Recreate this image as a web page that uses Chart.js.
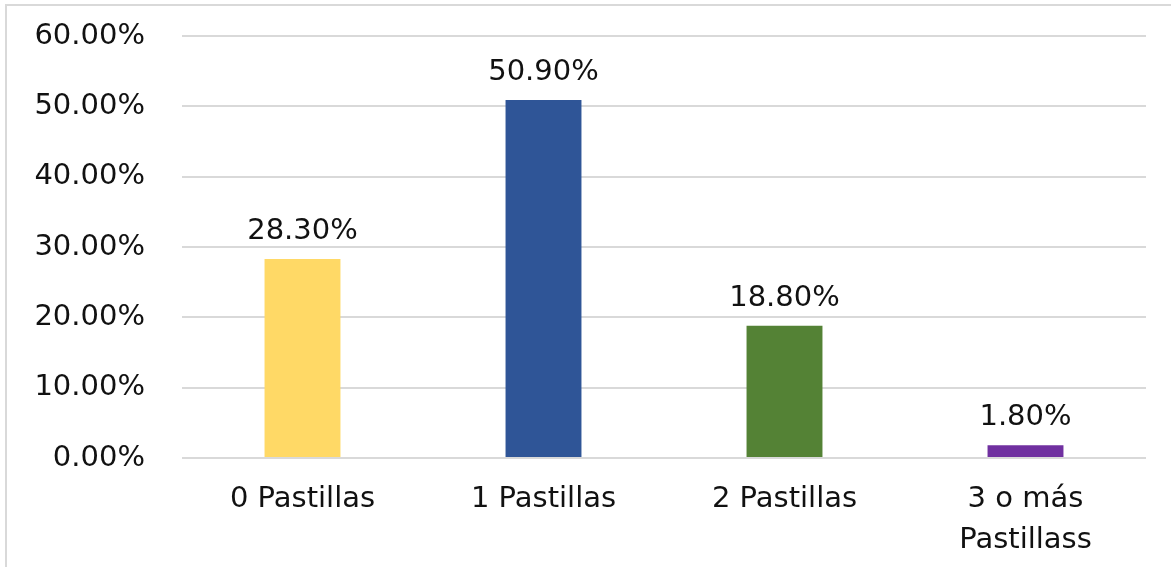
<!DOCTYPE html>
<html><head><meta charset="utf-8">
<script src="https://cdn.jsdelivr.net/npm/chart.js@4/dist/chart.umd.min.js"></script>
<style>
html,body{margin:0;padding:0;background:#fff;width:1171px;height:567px;overflow:hidden}
#wrap{position:absolute;left:0;top:0;width:1171px;height:567px}
#frame{position:absolute;left:5px;top:4px;width:1166px;height:563px;border-top:2px solid #d9d9d9;border-left:2px solid #d9d9d9;box-sizing:border-box;pointer-events:none}
</style></head>
<body>
<div id="wrap"><canvas id="c" width="1171" height="567"></canvas></div>
<div id="frame"></div>
<script>
const categories = ['0 Pastillas', '1 Pastillas', '2 Pastillas', ['3 o más', 'Pastillass']];
const values = [28.3, 50.9, 18.8, 1.8];
const barColors = ['#FFD966', '#2F5597', '#548235', '#7030A0'];
const yTicks = [0, 10, 20, 30, 40, 50, 60];

const FONT = 'DejaVu Sans';
const labelPlugin = {
  id: 'valueLabels',
  afterDatasetsDraw(chart) {
    const ctx = chart.ctx;
    const meta = chart.getDatasetMeta(0);
    ctx.save();
    ctx.font = '29px "' + FONT + '"';
    ctx.fillStyle = '#111';
    ctx.textAlign = 'center';
    ctx.textBaseline = 'alphabetic';
    meta.data.forEach((bar, i) => {
      ctx.fillText(values[i].toFixed(2) + '%', bar.x, bar.y - 20);
    });
    ctx.restore();
  }
};

new Chart(document.getElementById('c'), {
  type: 'bar',
  data: {
    labels: categories,
    datasets: [{
      data: values,
      backgroundColor: barColors,
      barPercentage: 0.315,
      categoryPercentage: 1.0
    }]
  },
  options: {
    responsive: false,
    animation: false,
    layout: { padding: { left: 0, right: 25, top: 36, bottom: 0 } },
    plugins: { legend: { display: false }, tooltip: { enabled: false } },
    scales: {
      x: {
        grid: { display: false },
        border: { display: false },
        ticks: { color: '#111', font: { family: FONT, size: 29, lineHeight: 1.42 }, padding: 13, maxRotation: 0 },
        afterFit(s) { s.height = 109; s.paddingLeft = 0; s.paddingRight = 0; }
      },
      y: {
        min: 0, max: 60,
        afterBuildTicks(s) { s.ticks = yTicks.map(v => ({ value: v })); },
        grid: { color: '#d9d9d9', lineWidth: 2, drawTicks: false },
        border: { display: false },
        ticks: {
          color: '#111', font: { family: FONT, size: 29 }, padding: 37,
          callback: v => Number(v).toFixed(2) + '%'
        },
        afterFit(s) { s.width = 182; s.paddingTop = 0; s.paddingBottom = 0; }
      }
    }
  },
  plugins: [labelPlugin]
});
</script>
</body></html>
